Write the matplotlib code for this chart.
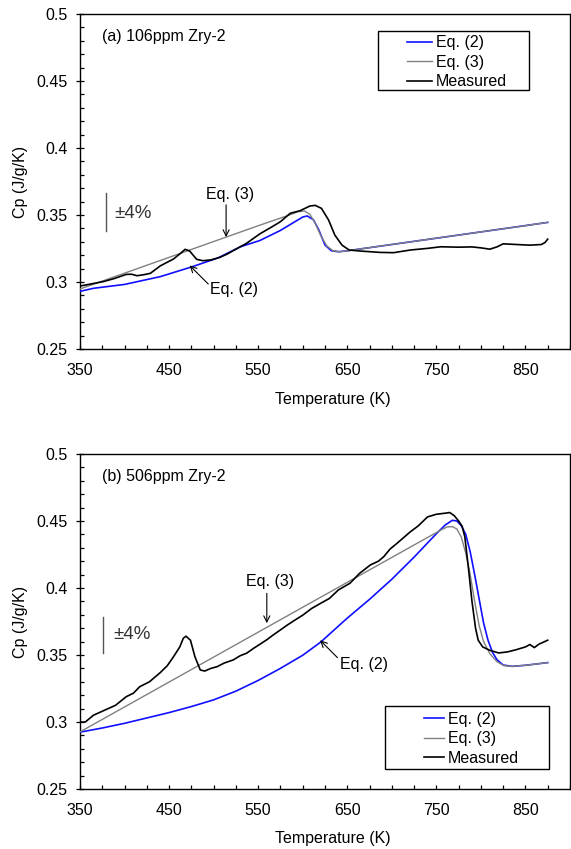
import matplotlib
matplotlib.use("Agg")
import matplotlib.pyplot as plt
from matplotlib.patches import Rectangle
from matplotlib.ticker import MultipleLocator, FuncFormatter

plt.rcParams["font.family"] = ["Liberation Sans", "DejaVu Sans"]
plt.rcParams["font.size"] = 11.5

BLUE = "#1010ff"
GRAY = "#808080"

# ── (a) 106ppm Zry-2 ────────────────────────────────────────────────────
a_eq2_T = [350, 365, 400, 440, 475, 505, 530, 552, 575, 590, 600, 605, 612, 618,
           625, 632, 640, 650, 700, 750, 800, 850, 875]
a_eq2_cp = [0.2930, 0.2953, 0.2982, 0.3040, 0.3112, 0.3180, 0.3263, 0.3310, 0.3385,
            0.3445, 0.3485, 0.3493, 0.3465, 0.3390, 0.3276, 0.3234, 0.3226, 0.3233,
            0.3280, 0.3327, 0.3374, 0.3421, 0.3445]

a_eq3_T = [350, 450, 550, 585, 595, 602, 608, 614, 620, 627, 634, 642, 650, 700,
           750, 800, 850, 875]
a_eq3_cp = [0.2948, 0.3184, 0.3420, 0.3500, 0.3525, 0.3530, 0.3505, 0.3440, 0.3350,
            0.3270, 0.3233, 0.3226, 0.3233, 0.3280, 0.3327, 0.3374, 0.3421, 0.3445]

a_meas_T = [350, 362, 376, 388, 402, 408, 414, 422, 429, 440, 455, 463, 468, 473,
            481, 488, 497, 507, 515, 522, 537, 552, 565, 575, 586, 597, 608, 614,
            621, 629, 636, 644, 652, 665, 687, 702, 721, 740, 755, 775, 790, 800,
            810, 818, 825, 840, 855, 868, 872, 875]
a_meas_cp = [0.2970, 0.2985, 0.3003, 0.3025, 0.3057, 0.3058, 0.3047, 0.3055, 0.3065,
             0.3120, 0.3172, 0.3215, 0.3244, 0.3232, 0.3169, 0.3159, 0.3165, 0.3184,
             0.3208, 0.3234, 0.3289, 0.3360, 0.3410, 0.3450, 0.3513, 0.3532, 0.3567,
             0.3572, 0.3550, 0.3463, 0.3351, 0.3276, 0.3239, 0.3231, 0.3221, 0.3219,
             0.3239, 0.3251, 0.3263, 0.3260, 0.3262, 0.3255, 0.3245, 0.3262, 0.3285,
             0.3280, 0.3275, 0.3280, 0.3295, 0.3320]

# ── (b) 506ppm Zry-2 ────────────────────────────────────────────────────
b_eq2_T = [350, 375, 400, 425, 450, 475, 500, 525, 550, 575, 600, 620, 650, 675,
           700, 725, 750, 760, 768, 773, 778, 783, 788, 793, 798, 803, 808, 813,
           818, 825, 835, 850, 875]
b_eq2_cp = [0.2924, 0.2955, 0.2990, 0.3030, 0.3070, 0.3115, 0.3165, 0.3230, 0.3310,
            0.3400, 0.3498, 0.3595, 0.3775, 0.3915, 0.4065, 0.4230, 0.4405, 0.4470,
            0.4505, 0.4500, 0.4465, 0.4400, 0.4270, 0.4100, 0.3920, 0.3740, 0.3610,
            0.3520, 0.3465, 0.3425, 0.3415, 0.3423, 0.3443]

b_eq3_T = [350, 450, 550, 650, 755, 762, 768, 773, 778, 783, 788, 793, 798, 803,
           810, 818, 826, 835, 850, 875]
b_eq3_cp = [0.2926, 0.3298, 0.3670, 0.4042, 0.4432, 0.4455, 0.4458, 0.4440, 0.4380,
            0.4260, 0.4100, 0.3900, 0.3720, 0.3600, 0.3510, 0.3450, 0.3420, 0.3415,
            0.3423, 0.3443]

b_meas_T = [350, 356, 365, 375, 380, 390, 402, 410, 417, 428, 440, 448, 455, 462,
            466, 469, 474, 479, 485, 490, 497, 504, 512, 522, 530, 537, 545, 552,
            560, 567, 575, 582, 590, 600, 610, 620, 630, 640, 653, 664, 676, 685,
            691, 698, 706, 714, 721, 730, 740, 750, 760, 765, 770, 775, 779, 782,
            786, 790, 794, 797, 802, 810, 820, 830, 840, 850, 855, 860, 865, 875]
b_meas_cp = [0.2999, 0.3000, 0.3050, 0.3080, 0.3095, 0.3125, 0.3189, 0.3215, 0.3263,
             0.3300, 0.3368, 0.3420, 0.3487, 0.3560, 0.3625, 0.3640, 0.3610, 0.3487,
             0.3388, 0.3380, 0.3400, 0.3413, 0.3440, 0.3463, 0.3495, 0.3513, 0.3550,
             0.3580, 0.3615, 0.3650, 0.3687, 0.3720, 0.3755, 0.3797, 0.3847, 0.3885,
             0.3922, 0.3985, 0.4035, 0.4110, 0.4172, 0.4200, 0.4234, 0.4290, 0.4334,
             0.4380, 0.4420, 0.4465, 0.4530, 0.4550, 0.4558, 0.4563, 0.4540, 0.4500,
             0.4460, 0.4380, 0.4150, 0.3900, 0.3700, 0.3610, 0.3560, 0.3535, 0.3515,
             0.3523, 0.3540, 0.3560, 0.3578, 0.3555, 0.3580, 0.3610]

LEGEND_LABELS = ["Eq. (2)", "Eq. (3)", "Measured"]

PANELS = [
    dict(eq2=(a_eq2_T, a_eq2_cp), eq3=(a_eq3_T, a_eq3_cp), meas=(a_meas_T, a_meas_cp),
         title="(a) 106ppm Zry-2",
         eq3_txt=(518, 0.3656), eq3_arrow=((514, 0.3576), (514, 0.3335)),
         eq2_txt=(523, 0.2942), eq2_arrow=((494, 0.2985), (473, 0.3124)),
         bar=(379, 0.3663, 0.3382), bar_txt=(389, 0.3515),
         leg_box=(0.608, 0.773, 0.308, 0.176), leg_anchor=(0.667, 0.937),
         handlelength=1.55, xlabel_y=-0.152),
    dict(eq2=(b_eq2_T, b_eq2_cp), eq3=(b_eq3_T, b_eq3_cp), meas=(b_meas_T, b_meas_cp),
         title="(b) 506ppm Zry-2",
         eq3_txt=(563, 0.4047), eq3_arrow=((559.7, 0.3960), (559.7, 0.3737)),
         eq2_txt=(669, 0.3430), eq2_arrow=((639, 0.3480), (619.5, 0.3610)),
         bar=(376, 0.3786, 0.3513), bar_txt=(387, 0.3654),
         leg_box=(0.622, 0.060, 0.335, 0.188), leg_anchor=(0.702, 0.231),
         handlelength=1.25, xlabel_y=-0.149),
]


def draw_panel(ax, p):
    ax.plot(*p["eq2"], color=BLUE, lw=1.2, label=LEGEND_LABELS[0], zorder=3)
    ax.plot(*p["eq3"], color=GRAY, lw=1.0, label=LEGEND_LABELS[1], zorder=3)
    ax.plot(*p["meas"], color="black", lw=1.2, label=LEGEND_LABELS[2], zorder=4)

    ax.set_xlim(350, 900)
    ax.set_ylim(0.25, 0.5)
    ax.xaxis.set_major_locator(MultipleLocator(100, offset=50))
    ax.xaxis.set_minor_locator(MultipleLocator(25))
    ax.yaxis.set_major_locator(MultipleLocator(0.05))
    ax.yaxis.set_minor_locator(MultipleLocator(0.01))
    ax.yaxis.set_major_formatter(FuncFormatter(lambda v, _: f"{v:g}"))
    ax.tick_params(axis="x", which="both", direction="in", length=3.2, width=0.9, pad=10)
    ax.tick_params(axis="y", which="both", direction="in", length=3.2, width=0.9, pad=6)
    ax.tick_params(axis="y", which="major", direction="inout", length=6)
    for s in ax.spines.values():
        s.set_linewidth(1.0)

    ax.set_xlabel("Temperature (K)")
    ax.set_ylabel("Cp (J/g/K)")
    ax.xaxis.label.set_verticalalignment("center")
    ax.xaxis.set_label_coords(0.516, p["xlabel_y"])
    ax.yaxis.label.set_verticalalignment("center")
    ax.yaxis.set_label_coords(-0.122, 0.5)

    ax.text(374.4, 0.483, p["title"], ha="left", va="center")

    arrow = dict(arrowstyle="->", color="black", lw=0.8, shrinkA=0, shrinkB=0,
                 mutation_scale=11)
    ax.annotate("", xy=p["eq3_arrow"][1], xytext=p["eq3_arrow"][0], arrowprops=arrow)
    ax.text(*p["eq3_txt"], "Eq. (3)", ha="center", va="center")
    ax.annotate("", xy=p["eq2_arrow"][1], xytext=p["eq2_arrow"][0], arrowprops=arrow)
    ax.text(*p["eq2_txt"], "Eq. (2)", ha="center", va="center")

    bx, y0, y1 = p["bar"]
    ax.plot([bx, bx], [y0, y1], color="#555555", lw=1.0)
    ax.text(*p["bar_txt"], "±4%", ha="left", va="center", color="#333333", fontsize=13.5)

    x0, yb, w, h = p["leg_box"]
    ax.add_patch(Rectangle((x0, yb), w, h, transform=ax.transAxes, fill=False,
                           edgecolor="black", lw=1.0, zorder=5))
    ax.legend(loc="upper left", bbox_to_anchor=p["leg_anchor"], frameon=False,
              borderpad=0, borderaxespad=0, handlelength=p["handlelength"],
              handletextpad=0.25, labelspacing=0.29, fontsize=11.5)


fig = plt.figure(figsize=(5.71, 8.49), dpi=100)
ax_a = fig.add_axes([0.1401, 0.5889, 0.8581, 0.3946])
ax_b = fig.add_axes([0.1401, 0.0707, 0.8581, 0.3946])
draw_panel(ax_a, PANELS[0])
draw_panel(ax_b, PANELS[1])

fig.savefig("out.png", dpi=100)
